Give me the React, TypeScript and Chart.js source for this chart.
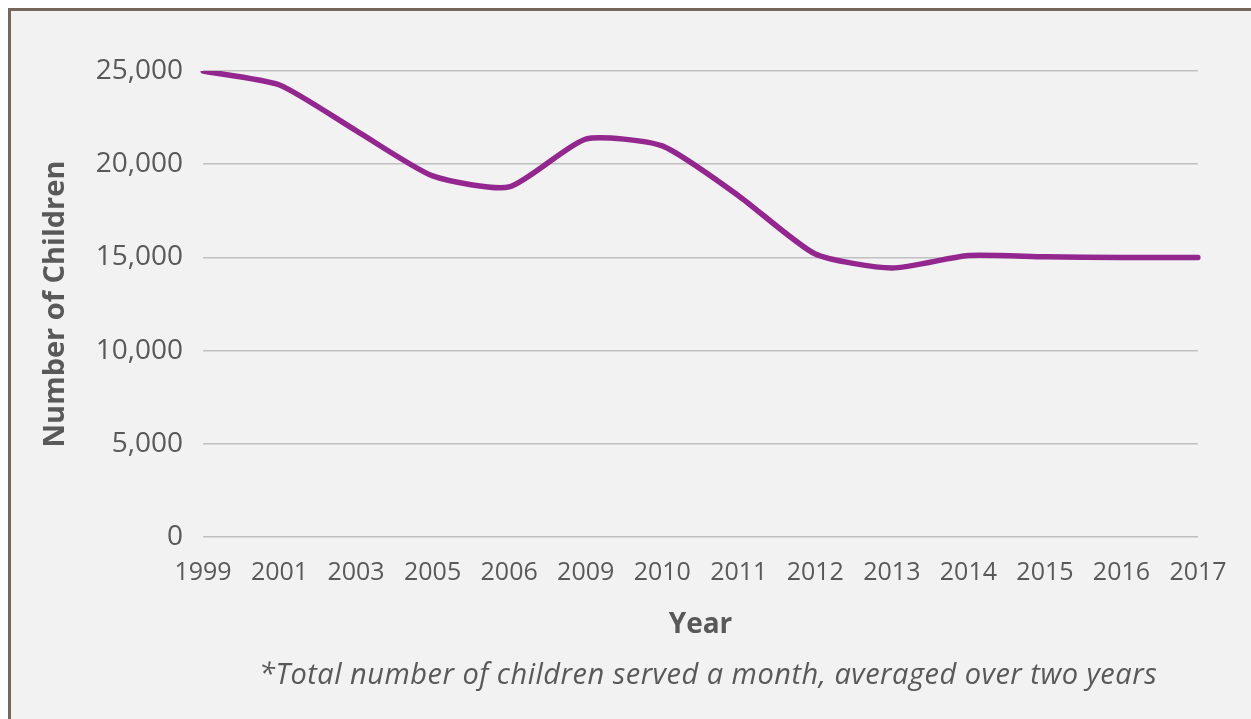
import React, { useEffect, useRef } from "react";
import { Chart, registerables } from "chart.js";

Chart.register(...registerables);

const years: string[] = ["1999", "2001", "2003", "2005", "2006", "2009", "2010", "2011", "2012", "2013", "2014", "2015", "2016", "2017"];
const children: number[] = [25000, 24250, 21800, 19370, 18780, 21350, 20980, 18300, 15180, 14430, 15100, 15030, 15000, 15000];
const yTicks: number[] = [0, 5000, 10000, 15000, 20000, 25000];
const yTitle = "Number of Children";
const xTitle = "Year";
const footnote = "*Total number of children served a month, averaged over two years";

const FONT = "'Open Sans', 'Noto Sans', sans-serif";
const TEXT = "#595959";

export default function App() {
  const ref = useRef<HTMLCanvasElement | null>(null);

  useEffect(() => {
    if (!ref.current) return;
    const chart = new Chart(ref.current, {
      type: "line",
      data: {
        labels: years,
        datasets: [
          {
            data: children,
            borderColor: "#93278f",
            borderWidth: 5.5,
            borderCapStyle: "round",
            borderJoinStyle: "round",
            pointRadius: 0,
            tension: 0.2,
            fill: false,
          },
        ],
      },
      options: {
        responsive: false,
        animation: false,
        maintainAspectRatio: false,
        layout: { padding: { left: 0, right: 53, top: 60, bottom: 0 } },
        plugins: { legend: { display: false }, tooltip: { enabled: false } },
        scales: {
          x: {
            type: "category",
            offset: false,
            grid: { display: false, drawTicks: false },
            border: { display: false },
            ticks: {
              color: TEXT,
              font: { family: FONT, size: 25 },
              padding: 21,
              maxRotation: 0,
              autoSkip: false,
            },
            title: {
              display: true,
              text: xTitle,
              color: TEXT,
              font: { family: FONT, size: 28, weight: "bold" },
              padding: { top: 0, bottom: 77 },
            },
            afterFit: (s: any) => {
              s.height = 182;
            },
          },
          y: {
            min: 0,
            max: 25000,
            grid: { color: "#c0c0c0", lineWidth: 1.5, drawTicks: false },
            border: { display: false },
            afterBuildTicks: (s: any) => {
              s.ticks = yTicks.map((v) => ({ value: v }));
            },
            ticks: {
              color: TEXT,
              font: { family: FONT, size: 28 },
              padding: 20,
              callback: (v: any) => Number(v).toLocaleString("en-US"),
            },
            title: {
              display: true,
              text: yTitle,
              color: TEXT,
              font: { family: FONT, size: 29, weight: "bold" },
              padding: { top: 27, bottom: 0 },
            },
            afterFit: (s: any) => {
              s.width = 192;
            },
          },
        },
      },
    });
    return () => chart.destroy();
  }, []);

  return (
    <div
      style={{
        position: "absolute",
        left: 8,
        top: 8,
        width: 1240,
        height: 708,
        borderTop: "3px solid #76675c",
        borderLeft: "3px solid #76675c",
        background: "#f2f2f2",
        overflow: "hidden",
      }}
    >
      <canvas ref={ref} width={1240} height={708} style={{ position: "absolute", left: 0, top: 0, width: 1240, height: 708 }} />
      <div
        style={{
          position: "absolute",
          left: 248,
          top: 642,
          whiteSpace: "nowrap",
          fontFamily: FONT,
          fontStyle: "italic",
          fontSize: 29,
          letterSpacing: "0.5px",
          color: TEXT,
        }}
      >
        {footnote}
      </div>
    </div>
  );
}
